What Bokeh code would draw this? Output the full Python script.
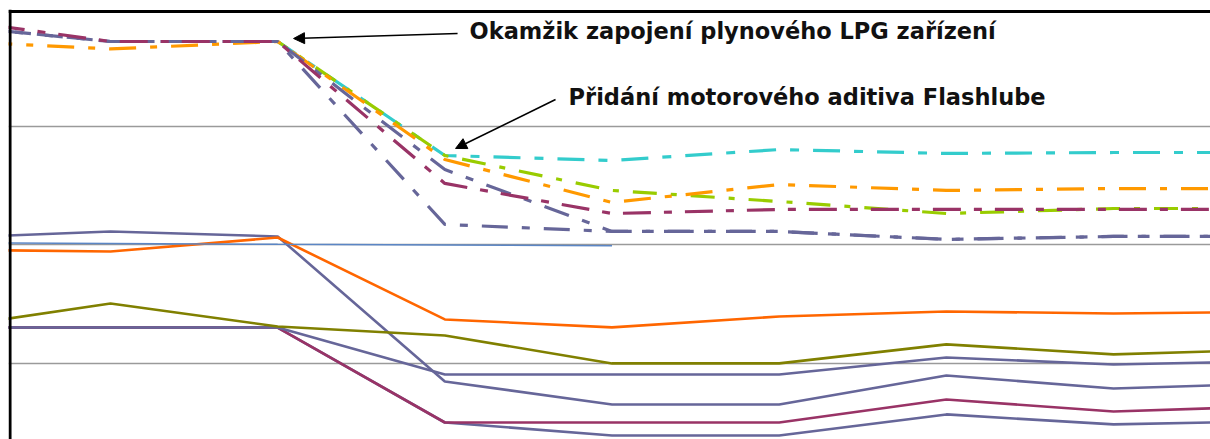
from bokeh.plotting import figure
from bokeh.models import Range1d, FixedTicker, Span, Arrow, NormalHead, Label
from bokeh.embed import file_html
from bokeh.resources import INLINE

nan = float("nan")

# measurement points (category index)
points = [1, 2, 3, 4, 5, 6, 7, 8, 9]

# solid series
solid_orange = [29.59, 29.45, 30.62, 23.73, 23.06, 23.98, 24.40, 24.23, 24.37]
solid_olive = [22.99, 25.07, 23.14, 22.38, 20.03, 20.03, 21.63, 20.79, 21.22]
solid_slate_a = [30.57, 31.13, 30.71, 18.51, 16.58, 16.58, 19.02, 17.92, 18.36]
solid_slate_b = [23.05, 23.05, 23.05, 19.10, 19.10, 19.10, 20.53, 19.94, 20.23]
solid_maroon = [23.05, 23.05, 23.05, 15.06, 15.06, 15.06, 17.00, 15.99, 16.43]
solid_slate_c = [23.05, 23.05, 23.05, 15.06, 13.97, 13.97, 15.74, 14.90, 15.18]
blue_ref = [30.20, 30.12, 30.05, 30.00, 29.92, nan, nan, nan, nan]

# dash-dot series
dash_cyan = [nan, nan, 47.11, 37.52, 37.10, 38.02, 37.69, 37.77, 37.77]
dash_green = [nan, nan, 47.11, 37.52, 34.58, 33.65, 32.64, 33.06, 33.06]
dash_orange = [47.17, 46.48, 47.11, 37.18, 33.57, 35.08, 34.58, 34.74, 34.74]
dash_slate_2 = [48.49, 47.11, 47.11, 36.34, 31.13, 31.13, 30.46, 30.71, 30.71]
dash_slate_1 = [48.49, 47.11, 47.11, 31.72, 31.13, 31.13, 30.46, 30.71, 30.71]
dash_maroon = [49.05, 47.11, 47.11, 35.17, 32.64, 32.98, 32.98, 32.98, 32.98]

grid_values = [20, 30, 40]

note1 = "Okamžik zapojení plynového LPG zařízení"
note2 = "Přidání motorového aditiva Flashlube"
note1_pos = (4.148, 47.95)
note2_pos = (4.740, 42.48)
arrow1 = (4.076, 47.78, 3.095, 47.36)
arrow2 = (4.662, 42.23, 4.064, 38.11)

X0, X1 = 1.3898, 8.580
Y0, Y1 = 13.63, 49.80
p = figure(width=1210, height=439, output_backend="svg", toolbar_location=None,
           x_range=Range1d(X0, X1), y_range=Range1d(Y0, Y1),
           min_border_left=8, min_border_right=0, min_border_top=9, min_border_bottom=0)
p.xaxis.visible = False
p.yaxis.visible = False
p.xgrid.grid_line_color = None
p.ygrid.ticker = FixedTicker(ticks=grid_values)
p.ygrid.grid_line_color = "#9a9a9a"
p.ygrid.grid_line_width = 1.3
p.outline_line_color = None
p.background_fill_color = "white"

SW = 2.6
p.line(points, solid_slate_c, line_color="#666699", line_width=SW)
p.line(points, solid_maroon, line_color="#993366", line_width=SW)
p.line(points, solid_slate_b, line_color="#666699", line_width=SW)
p.line(points, solid_slate_a, line_color="#666699", line_width=SW)
p.line(points, solid_olive, line_color="#808000", line_width=SW)
p.line(points, solid_orange, line_color="#FF6600", line_width=SW)
p.line(points, blue_ref, line_color="#5B86C5", line_width=1.5)

DW = 3.2
p.line(points, dash_cyan, line_color="#33CCCC", line_width=DW, line_dash="27 14 9 14", line_dash_offset=5)
p.line(points, dash_green, line_color="#99CC00", line_width=DW, line_dash="24 14 6 14", line_dash_offset=12)
p.line(points, dash_orange, line_color="#FF9900", line_width=DW, line_dash="27 14 7 14", line_dash_offset=20)
p.line(points, dash_slate_2, line_color="#666699", line_width=DW, line_dash="26 14 8 14", line_dash_offset=30)
p.line(points, dash_slate_1, line_color="#666699", line_width=DW, line_dash="26 14 8 14", line_dash_offset=0)
p.line(points, dash_maroon, line_color="#993366", line_width=DW, line_dash="28 13 8 13", line_dash_offset=8)

p.add_layout(Span(location=1.399, dimension="height", line_color="black", line_width=3, level="overlay"))
p.add_layout(Span(location=49.63, dimension="width", line_color="black", line_width=3, level="overlay"))

for (x0, y0, x1, y1) in [arrow1, arrow2]:
    p.add_layout(Arrow(end=NormalHead(size=11, fill_color="black", line_color="black"),
                       x_start=x0, y_start=y0, x_end=x1, y_end=y1,
                       line_color="black", line_width=1.6))

for txt, (tx, ty) in [(note1, note1_pos), (note2, note2_pos)]:
    p.add_layout(Label(x=tx, y=ty, text=txt, text_font="DejaVu Sans", text_font_style="bold",
                       text_font_size="22.5px", text_color="#111111",
                       text_align="left", text_baseline="middle"))

open("out.html", "w").write(file_html(p, INLINE))
